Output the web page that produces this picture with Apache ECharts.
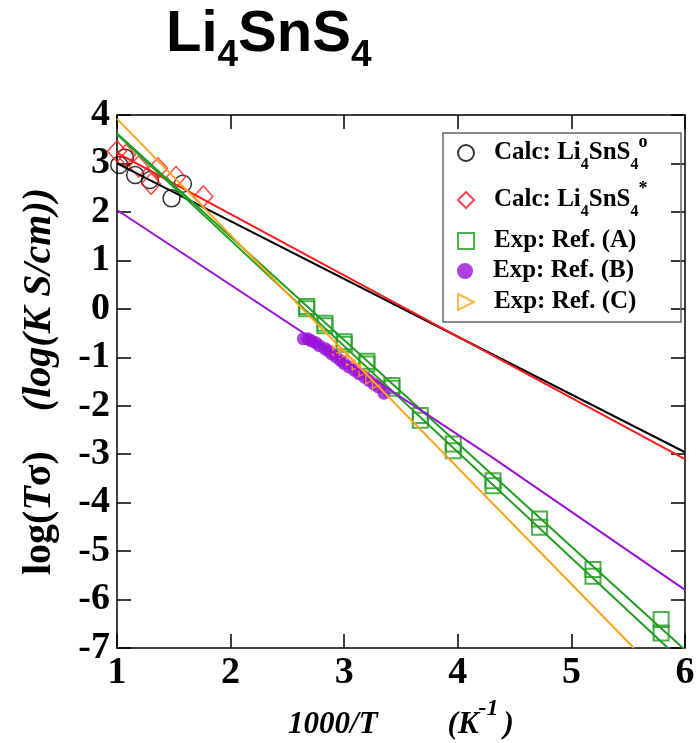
<!DOCTYPE html>
<html>
<head>
<meta charset="utf-8">
<script src="https://cdn.jsdelivr.net/npm/echarts@6/dist/echarts.min.js"></script>
<style>html,body{margin:0;padding:0;background:#fff}#c{width:700px;height:743px}</style>
</head>
<body>
<div id="c"></div>
<script>
// ---- data ----
var xTicks = [1, 2, 3, 4, 5, 6];
var yTicks = [-7, -6, -5, -4, -3, -2, -1, 0, 1, 2, 3, 4];

var calcO = [[1.02,2.97],[1.07,3.12],[1.16,2.76],[1.29,2.66],[1.48,2.28],[1.58,2.58]];
var calcStar = [[1.0,3.25],[1.08,3.18],[1.19,2.94],[1.3,2.58],[1.36,2.9],[1.52,2.72],[1.76,2.32]];
var refA1 = [[2.67,0.05],[2.83,-0.3],[3.0,-0.68],[3.2,-1.08],[3.42,-1.58],[3.67,-2.2],[3.96,-2.79],[4.31,-3.55],[4.72,-4.34],[5.19,-5.38],[5.79,-6.41]];
var refA2 = [[2.67,0.0],[2.83,-0.35],[3.0,-0.73],[3.2,-1.14],[3.42,-1.64],[3.67,-2.3],[3.96,-2.93],[4.31,-3.65],[4.72,-4.51],[5.19,-5.52],[5.79,-6.69]];
var refB = [[2.64,-0.62],[2.68,-0.62],[2.71,-0.66],[2.75,-0.7],[2.78,-0.76],[2.83,-0.82],[2.86,-0.87],[2.89,-0.93],[2.93,-1.0],[2.97,-1.07],[3.0,-1.13],[3.04,-1.2],[3.09,-1.27],[3.13,-1.34],[3.18,-1.41],[3.22,-1.48],[3.26,-1.55],[3.3,-1.61],[3.35,-1.74]];
var refC = [[2.94,-0.86],[3.0,-0.93],[3.06,-1.07],[3.11,-1.17],[3.17,-1.3],[3.23,-1.45],[3.29,-1.55]];

var fitO = [[1,3.0],[6,-2.96]];
var fitStar = [[1,3.22],[6,-3.1]];
var fitA1 = [[1,3.62],[6,-7.04]];
var fitA2 = [[1,3.6],[5.85,-7]];
var fitB = [[1,2.04],[4.3,-3.06],[6,-5.8]];
var fitC = [[1,3.92],[5.55,-7]];

var names = ['Calc: Li4SnS4o', 'Calc: Li4SnS4*', 'Exp: Ref. (A)', 'Exp: Ref. (B)', 'Exp: Ref. (C)'];
var labels = [
  '{g|}{m|Calc: Li}{sb|4}{m|SnS}{sb|4}{sp|o}',
  '{g|}{m|Calc: Li}{sb|4}{m|SnS}{sb|4}{sp|*}',
  '{g|}{m|Exp: Ref. (A)}',
  '{g|}{m|Exp: Ref. (B)}',
  '{g|}{m|Exp: Ref. (C)}'
];

var C_BLACK = '#000000', C_RED = '#ff1a1a', C_GREEN = '#1f9e1f', C_PURPLE = '#9a12d8', C_ORANGE = '#ffa31a';
var SERIF = 'Liberation Serif';

var legendRich = {
  g: {width: 15},
  m: {fontFamily: SERIF, fontWeight: 'bold', fontSize: 25, lineHeight: 39, color: '#000'},
  sb: {fontFamily: SERIF, fontWeight: 'bold', fontSize: 16, verticalAlign: 'bottom', color: '#000'},
  sp: {fontFamily: SERIF, fontWeight: 'bold', fontSize: 18, verticalAlign: 'top', color: '#000'}
};
var rowCenters = [153, 200, 240, 270, 301];
var rowShift = [19.5, 19.5, 11.5, 11.5, 11.5];
var legends = names.map(function (n, i) {
  return {
    left: 457, top: rowCenters[i] - rowShift[i], orient: 'vertical', padding: 0,
    itemWidth: 16, itemHeight: 16, selectedMode: false,
    data: [n],
    formatter: function () { return labels[i]; },
    textStyle: {rich: legendRich}
  };
});

function axisCommon(extra) {
  var o = {
    axisLine: {show: true, onZero: false, lineStyle: {color: '#000', width: 1.5}},
    axisTick: {show: true, inside: true, length: 14, lineStyle: {color: '#000', width: 1.5}},
    splitLine: {show: false}
  };
  for (var k in extra) o[k] = extra[k];
  return o;
}

var chart = echarts.init(document.getElementById('c'));
chart.setOption({
  animation: false,
  backgroundColor: '#fff',
  title: {
    text: '{t|Li}{s|4}{t|SnS}{s|4}',
    left: 166, top: 6, padding: 0,
    textStyle: {rich: {
      t: {fontFamily: 'Liberation Sans', fontWeight: 'bold', fontSize: 58, lineHeight: 68, verticalAlign: 'top', color: '#000'},
      s: {fontFamily: 'Liberation Sans', fontWeight: 'bold', fontSize: 37, verticalAlign: 'bottom', color: '#000'}
    }}
  },
  legend: legends,
  graphic: [{type: 'rect', shape: {x: 443, y: 133, width: 238, height: 189}, style: {fill: 'none', stroke: '#666', lineWidth: 1.5}, z: 10}],
  grid: {left: 117, right: 15, top: 115, bottom: 95, containLabel: false, outerBoundsMode: 'none'},
  xAxis: [
    axisCommon({type: 'value', min: xTicks[0], max: xTicks[xTicks.length - 1], interval: 1,
      axisLabel: {fontFamily: SERIF, fontWeight: 'bold', fontSize: 38, color: '#000', margin: 6},
      name: '{a|1000/T}{g|}{a|(K}{s|-1}{h|}{a|)}', nameLocation: 'middle', nameGap: 47,
      nameTextStyle: {rich: {
        a: {fontFamily: SERIF, fontStyle: 'italic', fontWeight: 'bold', fontSize: 31, lineHeight: 44, verticalAlign: 'bottom', color: '#000'},
        g: {width: 70},
        h: {width: 5},
        s: {fontFamily: SERIF, fontStyle: 'italic', fontWeight: 'bold', fontSize: 24, verticalAlign: 'top', color: '#000'}
      }}}),
    axisCommon({type: 'value', position: 'top', min: 1, max: 6, interval: 1, axisLabel: {show: false}})
  ],
  yAxis: [
    axisCommon({type: 'value', min: yTicks[0], max: yTicks[yTicks.length - 1], interval: 1,
      axisLabel: {fontFamily: SERIF, fontWeight: 'bold', fontSize: 38, color: '#000', margin: 7},
      name: '{n|log(}{i|T}{n|σ)}{g|}{i|(log(K S/cm))}', nameLocation: 'middle', nameGap: 57,
      nameTextStyle: {rich: {
        n: {fontFamily: SERIF, fontWeight: 'bold', fontSize: 40, color: '#000'},
        i: {fontFamily: SERIF, fontWeight: 'bold', fontStyle: 'italic', fontSize: 40, color: '#000'},
        g: {width: 40}
      }}}),
    axisCommon({type: 'value', position: 'right', min: -7, max: 4, interval: 1, axisLabel: {show: false}})
  ],
  series: [
    {name: names[0], type: 'scatter', data: calcO, symbol: 'circle', symbolSize: 17,
      itemStyle: {color: 'rgba(255,255,255,0)', borderColor: C_BLACK, borderWidth: 1.5}},
    {name: names[1], type: 'scatter', data: calcStar, symbol: 'diamond', symbolSize: [19, 21],
      itemStyle: {color: 'rgba(255,255,255,0)', borderColor: C_RED, borderWidth: 1.5}},
    {name: names[2], type: 'scatter', data: refA1, symbol: 'rect', symbolSize: 15,
      itemStyle: {color: 'rgba(255,255,255,0)', borderColor: C_GREEN, borderWidth: 2}},
    {name: names[2], type: 'scatter', data: refA2, symbol: 'rect', symbolSize: 15,
      itemStyle: {color: 'rgba(255,255,255,0)', borderColor: C_GREEN, borderWidth: 2}},
    {name: names[3], type: 'scatter', data: refB, symbol: 'circle', symbolSize: 13,
      itemStyle: {color: C_PURPLE}},
    {name: names[4], type: 'scatter', data: refC, symbol: 'path://M0,0L10,5L0,10Z', symbolSize: 9,
      itemStyle: {color: 'rgba(255,255,255,0)', borderColor: C_ORANGE, borderWidth: 1.5}},
    {type: 'line', data: fitO, symbol: 'none', lineStyle: {color: C_BLACK, width: 2}},
    {type: 'line', data: fitStar, symbol: 'none', lineStyle: {color: C_RED, width: 2}},
    {type: 'line', data: fitA1, symbol: 'none', lineStyle: {color: C_GREEN, width: 2}},
    {type: 'line', data: fitA2, symbol: 'none', lineStyle: {color: C_GREEN, width: 2}},
    {type: 'line', data: fitB, symbol: 'none', lineStyle: {color: C_PURPLE, width: 2}},
    {type: 'line', data: fitC, symbol: 'none', lineStyle: {color: C_ORANGE, width: 2}}
  ]
});
</script>
</body>
</html>
